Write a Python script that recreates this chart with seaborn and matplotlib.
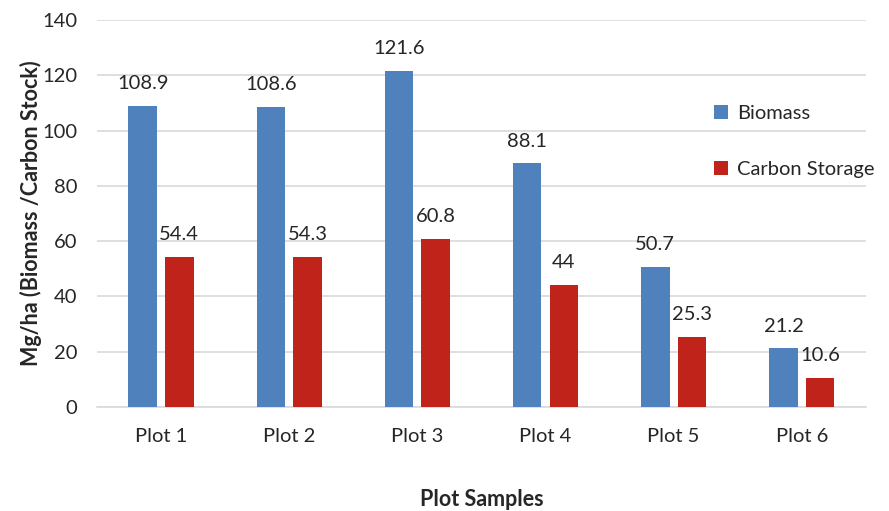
import matplotlib
matplotlib.use("Agg")
import matplotlib.pyplot as plt
import seaborn as sns
import pandas as pd

plots = ["Plot 1", "Plot 2", "Plot 3", "Plot 4", "Plot 5", "Plot 6"]
biomass = [108.9, 108.6, 121.6, 88.1, 50.7, 21.2]
carbon_storage = [54.4, 54.3, 60.8, 44, 25.3, 10.6]
series_names = ["Biomass", "Carbon Storage"]
yticks = [0, 20, 40, 60, 80, 100, 120, 140]

df = pd.DataFrame({
    "plot": plots * 2,
    "value": biomass + carbon_storage,
    "series": [series_names[0]] * len(plots) + [series_names[1]] * len(plots),
})

sns.set_theme(style="white")
plt.rcParams["font.family"] = ["Lato", "DejaVu Sans"]

fig = plt.figure(figsize=(8.89, 5.11), dpi=100)
ax = fig.add_axes([0.109, 0.2035, 0.865, 0.7575])

palette = {"Biomass": "#4F81BD", "Carbon Storage": "#C0231A"}
sns.barplot(data=df, x="plot", y="value", hue="series", palette=palette,
            width=0.572, gap=0.224, saturation=1, linewidth=0, ax=ax, zorder=3)

for cont in ax.containers:
    ax.bar_label(cont, fmt="%g", padding=10, fontsize=14.5, color="#262626")

ax.set_ylim(0, 140)
ax.set_xlim(-0.5, 5.5)
ax.set_yticks(yticks)
ax.yaxis.grid(True, color="#D9D9D9", linewidth=1.2, zorder=0)
ax.set_axisbelow(True)
for s in ["top", "right", "left"]:
    ax.spines[s].set_visible(False)
ax.spines["bottom"].set_color("#D9D9D9")
ax.spines["bottom"].set_linewidth(1.2)
ax.tick_params(axis="both", length=0, labelsize=14.5, colors="#262626")
ax.tick_params(axis="y", pad=14)
ax.tick_params(axis="x", pad=15)

ax.set_xlabel("Plot Samples", fontsize=15.5, fontweight="bold", color="#262626", labelpad=32)
ax.set_ylabel("Mg/ha (Biomass /Carbon Stock)", fontsize=15.5, fontweight="bold", color="#262626", labelpad=0)

leg = ax.legend(loc="upper left", bbox_to_anchor=(0.792, 0.80), frameon=False,
                fontsize=14.5, labelspacing=1.9, handlelength=0.7, handleheight=0.7,
                handletextpad=0.45, borderaxespad=0)
for t in leg.get_texts():
    t.set_color("#262626")

fig.savefig("out.png", dpi=100)
